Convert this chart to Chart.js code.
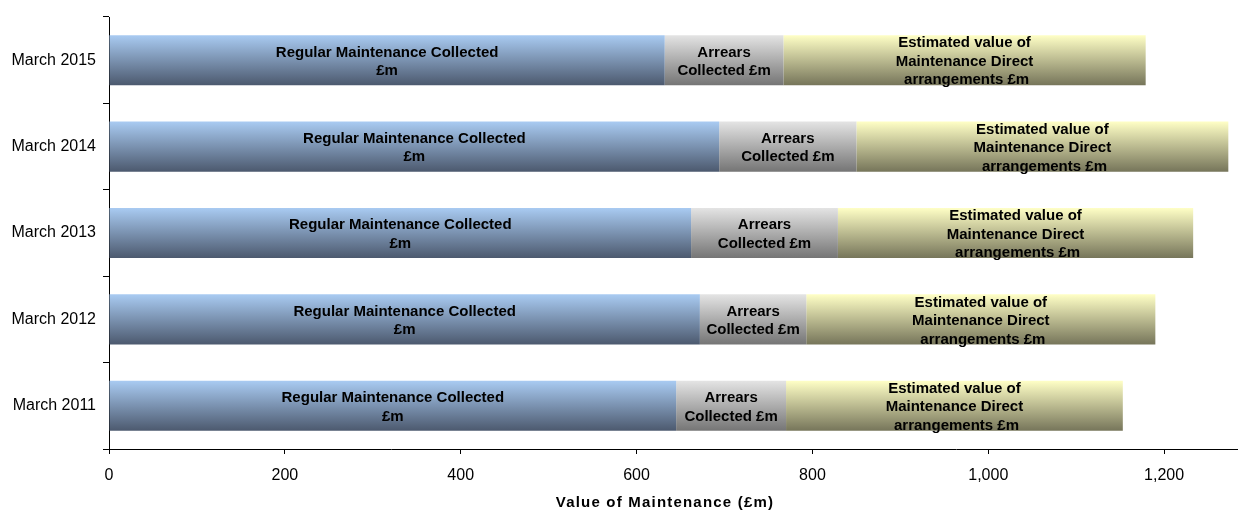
<!DOCTYPE html>
<html>
<head>
<meta charset="utf-8">
<script src="https://cdn.jsdelivr.net/npm/chart.js@4/dist/chart.umd.min.js"></script>
<style>
    body { margin: 0; background: #fff; }
    #wrap { width: 1238px; height: 512px; }
</style>
</head>
<body>
<div id="wrap"><canvas id="maintChart" width="1238" height="512"></canvas></div>
<script>
// values (£m)
const categories = ['March 2011', 'March 2012', 'March 2013', 'March 2014', 'March 2015'];
const regularCollected = [645, 672, 662, 694, 632];
const arrearsCollected = [125, 121, 167, 156, 135];
const directArrangements = [383, 397, 404, 423, 412];
const xTickValues = [0, 200, 400, 600, 800, 1000, 1200];
const xMax = 1284;

const seriesNames = ['Regular Maintenance Collected £m', 'Arrears Collected £m', 'Estimated value of Maintenance Direct arrangements £m'];
const seriesLabelLines = [
    ['Regular Maintenance Collected', '£m'],
    ['Arrears', 'Collected £m'],
    ['Estimated value of', 'Maintenance Direct', ' arrangements £m']
];
const xTitle = 'Value of Maintenance (£m)';

const BAR_PCT = 0.58;
const FONT = '"Liberation Sans", Arial, sans-serif';

// vertical gradient per bar, light at top and dark at bottom
function barGradient(top, bottom) {
    return function (c) {
        const chart = c.chart;
        const yScale = chart.scales.y;
        if (!yScale || c.dataIndex === undefined) return bottom;
        const center = yScale.getPixelForValue(c.dataIndex);
        const half = (yScale.height / categories.length) * BAR_PCT / 2;
        if (!isFinite(center) || !isFinite(half)) return bottom;
        const g = chart.ctx.createLinearGradient(0, center - half, 0, center + half);
        g.addColorStop(0, top);
        g.addColorStop(1, bottom);
        return g;
    };
}

// series names written inside every segment, plus the spaced-out x title
const barLabels = {
    id: 'barLabels',
    afterDatasetsDraw(chart) {
        const ctx = chart.ctx;
        ctx.save();
        ctx.font = 'bold 15px ' + FONT;
        ctx.fillStyle = '#000';
        ctx.textAlign = 'center';
        ctx.textBaseline = 'middle';
        chart.data.datasets.forEach((ds, i) => {
            const lines = seriesLabelLines[i];
            chart.getDatasetMeta(i).data.forEach(el => {
                const cx = (el.x + el.base) / 2;
                const lineH = 18.5;
                const startY = el.y + 1.5 - (lines.length - 1) * lineH / 2;
                lines.forEach((t, k) => ctx.fillText(t, cx, startY + k * lineH));
            });
        });
        ctx.restore();
    },
    afterDraw(chart) {
        const ctx = chart.ctx;
        ctx.save();
        ctx.font = 'bold 15px ' + FONT;
        ctx.letterSpacing = '1.2px';
        ctx.fillStyle = '#000';
        ctx.textAlign = 'center';
        ctx.textBaseline = 'middle';
        ctx.fillText(xTitle, 665, 503);
        ctx.restore();
    }
};

new Chart(document.getElementById('maintChart'), {
    type: 'bar',
    data: {
        labels: categories,
        datasets: [
            { label: seriesNames[0], data: regularCollected, backgroundColor: barGradient('#a9cbf2', '#4c596e') },
            { label: seriesNames[1], data: arrearsCollected, backgroundColor: barGradient('#e4e4e4', '#757575') },
            { label: seriesNames[2], data: directArrangements, backgroundColor: barGradient('#ffffc6', '#76755a') }
        ]
    },
    options: {
        indexAxis: 'y',
        responsive: false,
        animation: false,
        categoryPercentage: 1,
        barPercentage: BAR_PCT,
        layout: { padding: { top: 17, left: 0, right: 0, bottom: 0 } },
        plugins: {
            legend: { display: false },
            tooltip: { enabled: false }
        },
        scales: {
            x: {
                stacked: true,
                min: 0,
                max: xMax,
                grid: { drawOnChartArea: false, drawTicks: true, tickLength: 5, color: '#000' },
                border: { color: '#000', width: 1 },
                ticks: {
                    stepSize: 200,
                    color: '#000',
                    padding: 12,
                    font: { family: FONT, size: 16 },
                    callback: v => v.toLocaleString('en-GB')
                },
                afterBuildTicks: scale => {
                    scale.ticks = xTickValues.map(v => ({ value: v }));
                },
                afterFit: scale => { scale.height = 63; }
            },
            y: {
                stacked: true,
                reverse: true,
                grid: { offset: true, drawOnChartArea: false, drawTicks: true, tickLength: 6, color: '#000' },
                border: { color: '#000', width: 1 },
                ticks: {
                    color: '#000',
                    padding: 7,
                    font: { family: FONT, size: 16 }
                },
                afterFit: scale => { scale.width = 109; }
            }
        }
    },
    plugins: [barLabels]
});
</script>
</body>
</html>
